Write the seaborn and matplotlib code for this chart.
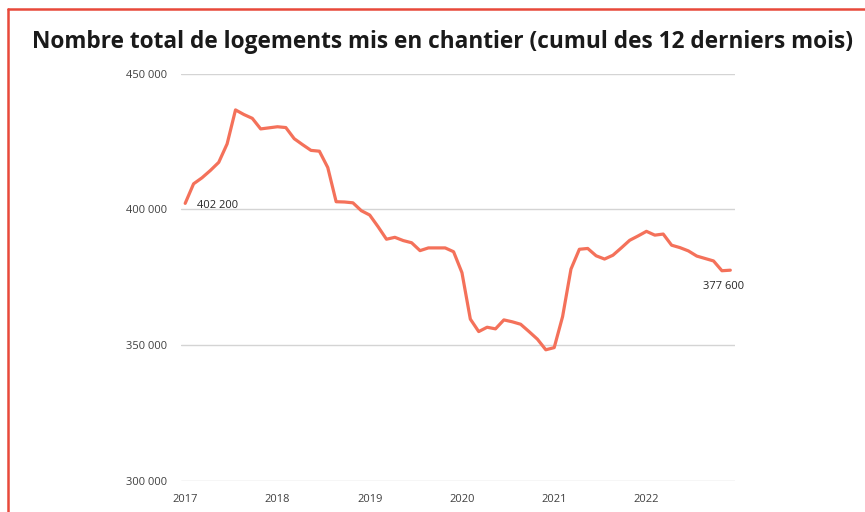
import numpy as np
import matplotlib
matplotlib.use("Agg")
import matplotlib.pyplot as plt
from matplotlib.lines import Line2D
import seaborn as sns

# values (cumulative starts over 12 months), one point per period
values = [402200, 409400, 411600, 414300, 417300, 424100, 436600, 434900, 433500, 429600,
          430000, 430400, 430100, 426000, 423800, 421700, 421400, 415400, 402800, 402700,
          402400, 399500, 397900, 393600, 389000, 389700, 388500, 387700, 384800, 385800,
          385800, 385800, 384400, 376700, 359600, 355000, 356600, 356000, 359300, 358600,
          357700, 355000, 352200, 348300, 349100, 360500, 378000, 385300, 385600, 382900,
          381700, 383100, 385800, 388600, 390200, 391900, 390500, 390900, 386800, 385900,
          384700, 382800, 381900, 381000, 377400, 377600]
years = ["2017", "2018", "2019", "2020", "2021", "2022"]
y_ticks = [300000, 350000, 400000, 450000]
title = "Nombre total de logements mis en chantier (cumul des 12 derniers mois)"

def fmt(v):
    return f"{v:,}".replace(",", " ")

sns.set_theme(style="white")
plt.rcParams['font.family'] = ['Open Sans', 'DejaVu Sans']

fig = plt.figure(figsize=(8.65, 5.12), dpi=100)
ax = fig.add_axes([181 / 865, 1 - 481 / 512, (734.5 - 181) / 865, (481 - 73.5) / 512])

x = np.arange(len(values))
sns.lineplot(x=x, y=values, ax=ax, color="#F4715A", linewidth=2.3)

ax.set_xlim(-0.5, len(values) - 0.5)
ax.set_ylim(300000, 450000)
ax.set_yticks(y_ticks)
ax.set_yticklabels([fmt(v) for v in y_ticks], fontsize=8, color="#404040")
ax.set_xticks(np.arange(len(years)) * 11)
ax.set_xticklabels(years, fontsize=8, color="#404040")
ax.tick_params(axis="y", length=0, pad=10)
ax.tick_params(axis="x", length=0, pad=9)
ax.grid(axis="y", color="#d4d4d4", linewidth=1)
for s in ax.spines.values():
    s.set_visible(False)

# end labels
ax.annotate(fmt(values[0]), (x[0], values[0]), xytext=(8.5, -1.5), textcoords="offset points",
            fontsize=8, color="#262626", va="center", ha="left")
ax.annotate(fmt(values[-1]), (x[-1], values[-1]), xytext=(-20, -12), textcoords="offset points",
            fontsize=8, color="#262626", va="center", ha="left")

fig.text(443 / 865, 1 - 42 / 512, title, fontsize=16.3, fontweight="bold",
         color="#1a1a1a", ha="center", va="center")

# red frame (top and left edges visible)
fig.add_artist(Line2D([8 / 865, 1], [1 - 9 / 512, 1 - 9 / 512], color="#E8493A", linewidth=1.8))
fig.add_artist(Line2D([8 / 865, 8 / 865], [0, 1 - 9 / 512], color="#E8493A", linewidth=1.8))

fig.savefig("out.png", dpi=100)
